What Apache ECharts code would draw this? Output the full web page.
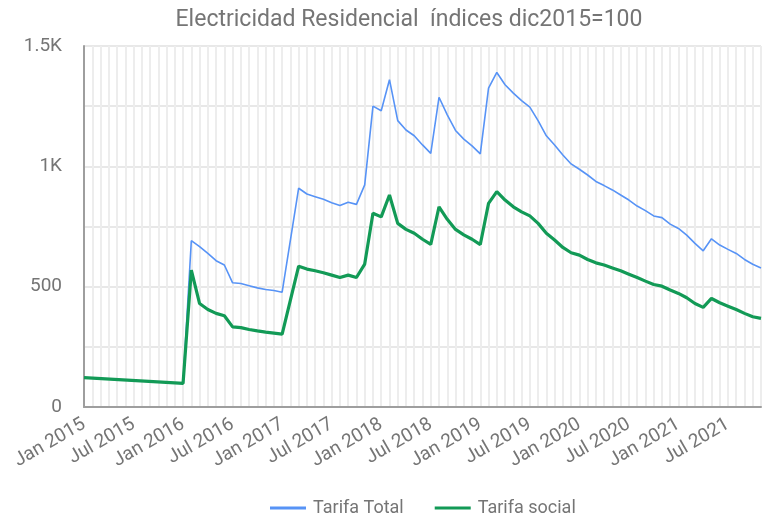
<!DOCTYPE html>
<html>
<head>
<meta charset="utf-8">
<script src="https://cdn.jsdelivr.net/npm/echarts@6/dist/echarts.min.js"></script>
<style>
  html, body { margin: 0; padding: 0; background: #fff; }
  #chart { width: 765px; height: 517px; }
</style>
</head>
<body>
<div id="chart"></div>
<script type="text/javascript">
	// data, monthly Jan 2015 .. Nov 2021
	var monthNames = ['Jan', 'Feb', 'Mar', 'Apr', 'May', 'Jun', 'Jul', 'Aug', 'Sep', 'Oct', 'Nov', 'Dec'];
	var years = [2015, 2016, 2017, 2018, 2019, 2020, 2021];
	var lastMonthIndex = 82;

	var tarifaTotal = [
		122, null, null, null, null, null, null, null, null, null, null, 100,
		98, 691, 666, 638, 608, 590, 516, 513, 504, 495, 488, 484,
		477, null, 909, 885, 874, 863, 849, 837, 851, 842, 923, 1250,
		1231, 1360, 1190, 1151, 1127, 1089, 1054, 1287, 1214, 1149, 1113, 1085,
		1052, 1325, 1390, 1339, 1304, 1273, 1246, 1190, 1127, 1089, 1047, 1010,
		988, 964, 937, 920, 902, 881, 860, 835, 816, 794, 787, 760,
		742, 714, 680, 649, 699, 673, 655, 638, 613, 593, 578
	];
	var tarifaSocial = [
		122, null, null, null, null, null, null, null, null, null, null, 100,
		98, 569, 430, 405, 389, 379, 333, 330, 322, 316, 311, 307,
		303, null, 585, 573, 566, 558, 548, 538, 548, 538, 594, 805,
		790, 881, 763, 738, 722, 697, 676, 832, 780, 738, 715, 697,
		675, 846, 895, 860, 832, 811, 794, 763, 722, 694, 663, 641,
		631, 613, 599, 590, 578, 566, 552, 538, 523, 509, 502, 486,
		472, 454, 430, 414, 451, 433, 419, 405, 389, 375, 368
	];

	var categories = [];
	years.forEach(function(y) {
		monthNames.forEach(function(m) {
			if (categories.length <= lastMonthIndex) categories.push(m + ' ' + y);
		});
	});

	var grey = '#757575';
	var chart = echarts.init(document.getElementById('chart'));
	chart.setOption({
		animation: false,
		textStyle: { fontFamily: 'Roboto' },
		title: {
			text: 'Electricidad Residencial  índices dic2015=100',
			left: 404,
			textAlign: 'center',
			top: 4,
			textStyle: { fontSize: 23, fontWeight: 'normal', color: grey, fontFamily: 'Roboto' }
		},
		legend: {
			left: 265,
			top: 494,
			itemGap: 31,
			itemWidth: 36,
			itemHeight: 3,
			icon: 'rect',
			textStyle: { fontSize: 18, color: grey, padding: [0, 0, 0, 2] },
			data: ['Tarifa Total', 'Tarifa social']
		},
		grid: { left: 84, right: 4, top: 46, bottom: 110, containLabel: false },
		xAxis: {
			type: 'category',
			boundaryGap: false,
			data: categories,
			axisLine: { lineStyle: { color: '#9e9e9e', width: 2 } },
			axisTick: { show: false },
			axisLabel: { interval: 5, rotate: 30, fontSize: 19, color: grey, margin: 16 },
			splitLine: { show: true, interval: 0, lineStyle: { color: '#ededed', width: 2 } }
		},
		yAxis: {
			type: 'value',
			min: 0,
			max: 1500,
			interval: 250,
			axisLine: { show: true, lineStyle: { color: '#9e9e9e', width: 2 } },
			axisTick: { show: false },
			axisLabel: {
				fontSize: 19, color: grey, margin: 22,
				formatter: function(v) {
					if (v % 500 !== 0) return '';
					return v >= 1000 ? (v / 1000) + 'K' : String(v);
				}
			},
			splitLine: { lineStyle: { color: '#e8e8e8', width: 2 } }
		},
		series: [
			{
				name: 'Tarifa Total',
				type: 'line',
				data: tarifaTotal,
				connectNulls: true,
				showSymbol: false,
				color: '#5793f6',
				lineStyle: { width: 1.6, color: '#5793f6' }
			},
			{
				name: 'Tarifa social',
				type: 'line',
				data: tarifaSocial,
				connectNulls: true,
				showSymbol: false,
				color: '#129a56',
				lineStyle: { width: 3.2, color: '#129a56' }
			}
		]
	});
</script>
</body>
</html>
